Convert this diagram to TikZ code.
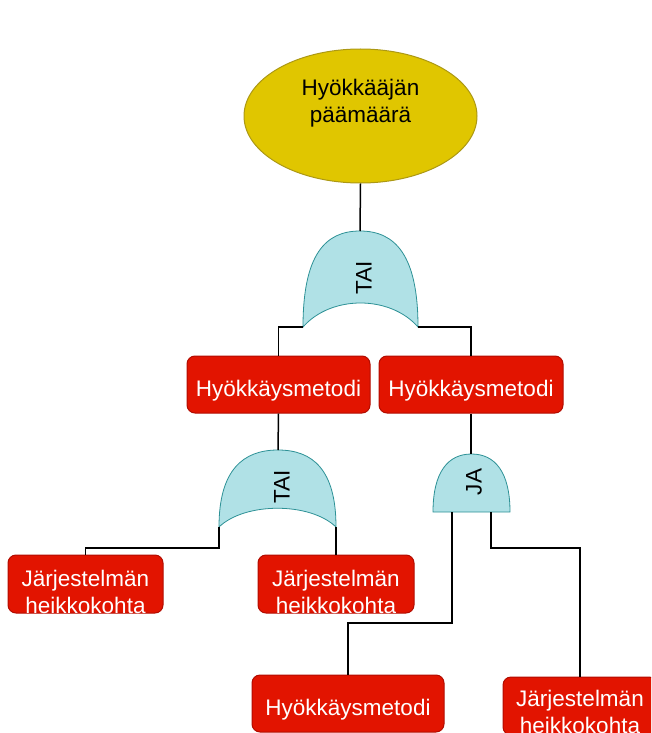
\documentclass[tikz,border=0pt]{standalone}
\usepackage{fontspec}
\setmainfont{Liberation Sans}
\usetikzlibrary{shapes.geometric}
\definecolor{goalfill}{RGB}{224,198,0}
\definecolor{goaledge}{RGB}{172,152,20}
\definecolor{gatefill}{RGB}{176,225,230}
\definecolor{gateedge}{RGB}{45,145,150}
\definecolor{boxfill}{RGB}{226,20,0}
\definecolor{boxedge}{RGB}{178,12,0}
\begin{document}
\begin{tikzpicture}[x=1pt,y=-1pt,
  lbl/.style={font=\fontsize{22.5}{27}\selectfont, align=center, inner sep=0pt},
  box/.style={draw=boxedge, fill=boxfill, rounded corners=8pt, line width=1pt, inner sep=0pt},
  boxtxt/.style={lbl, text=white, yshift=-6pt},
  goal/.style={ellipse, draw=goaledge, fill=goalfill, line width=1pt, inner sep=0pt},
  gate/.style={draw=gateedge, fill=gatefill, line width=0.8pt},
  gatetxt/.style={lbl, rotate=90},
  wire/.style={line width=1.5pt, black}]
\clip (0,0) rectangle (651,733);

% attacker goal
\node[goal, minimum width=233, minimum height=134,
  label={[name=goaltxt, lbl, yshift=13pt]center:Hyökkääjän\\päämäärä}] (goal) at (360.5,116) {};

% OR gate under the goal
\draw[gate] (303,327) .. controls (303,255) and (325,231) .. (360,231)
  .. controls (395,231) and (418,255) .. (418,327)
  .. controls (390,295) and (331,295) .. cycle;
\node[gatetxt] (or1txt) at (364,278) {TAI};
\coordinate (or1top) at (360,231);
\coordinate (or1l) at (303,327);
\coordinate (or1r) at (418,327);

% attack methods, first level
\node[box, minimum width=183, minimum height=57,
  label={[name=m1txt, boxtxt]center:Hyökkäysmetodi}] (m1) at (278.5,384.5) {};
\node[box, minimum width=184, minimum height=57,
  label={[name=m2txt, boxtxt]center:Hyökkäysmetodi}] (m2) at (471,384.5) {};

% OR gate under the left method
\draw[gate] (219,527) .. controls (219,470) and (243,450) .. (278,450)
  .. controls (313,450) and (336,470) .. (336,527)
  .. controls (310,502) and (245,502) .. cycle;
\node[gatetxt] (or2txt) at (282,487) {TAI};
\coordinate (or2top) at (278,450);
\coordinate (or2l) at (219,527);
\coordinate (or2r) at (336,527);

% AND gate under the right method
\draw[gate] (433,512) .. controls (433,472) and (448,454) .. (471.5,454)
  .. controls (495,454) and (510,472) .. (510,512) -- cycle;
\node[gatetxt] (andtxt) at (474,482) {JA};
\coordinate (andtop) at (471,454);
\coordinate (andl) at (452,512);
\coordinate (andr) at (491,512);

% leaves
\node[box, minimum width=155, minimum height=58,
  label={[name=w1txt, boxtxt, yshift=-2pt]center:Järjestelmän\\heikkokohta}] (w1) at (85.5,584) {};
\node[box, minimum width=156, minimum height=58,
  label={[name=w2txt, boxtxt, yshift=-2pt]center:Järjestelmän\\heikkokohta}] (w2) at (336,584) {};
\node[box, minimum width=192, minimum height=57,
  label={[name=m3txt, boxtxt]center:Hyökkäysmetodi}] (m3) at (348,703.5) {};
\node[box, minimum width=154, minimum height=58,
  label={[name=w3txt, boxtxt]center:Järjestelmän\\heikkokohta}] (w3) at (580,706) {};

% wiring
\coordinate (k1) at (219,548);
\coordinate (k2) at (452,623);
\coordinate (k3) at (491,548);
\draw[wire] (goal.south) -- (or1top);
\draw[wire] (or1l) -| (m1.north);
\draw[wire] (or1r) -| (m2.north);
\draw[wire] (m1.south) -- (or2top);
\draw[wire] (m2.south) -- (andtop);
\draw[wire] (or2l) -- (k1) -| (w1.north);
\draw[wire] (or2r) -- (w2.north);
\draw[wire] (andl) -- (k2) -| (m3.north);
\draw[wire] (andr) -- (k3) -| (w3.north);
\end{tikzpicture}
\end{document}
